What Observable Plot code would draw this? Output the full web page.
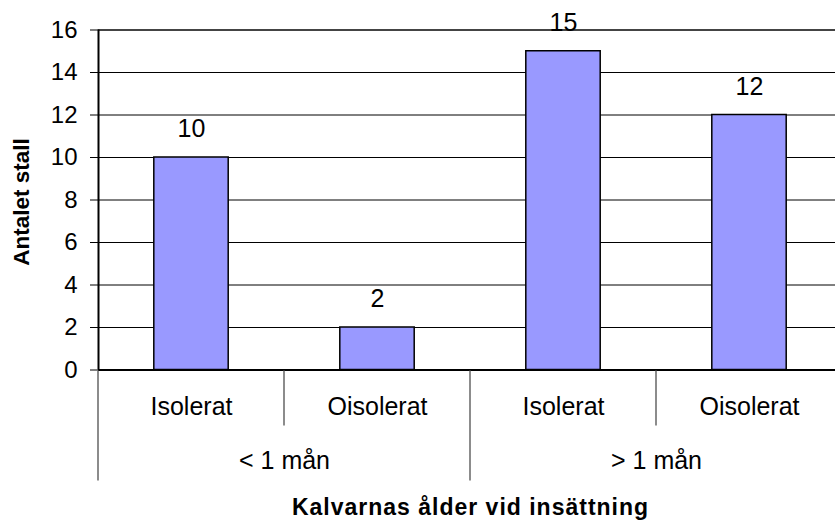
<!DOCTYPE html>
<html><head><meta charset="utf-8">
<script src="https://cdn.jsdelivr.net/npm/d3@7"></script>
<script src="https://cdn.jsdelivr.net/npm/@observablehq/plot@0.6"></script>
<style>
html,body{margin:0;padding:0;overflow:hidden;background:#fff;width:835px;height:520px}
#chart svg{display:block;max-width:none !important;width:845px;height:520px}
</style>
</head><body><div id="chart"></div>
<script>
// ---- data ----
const ageGroups = ["< 1 mån", "< 1 mån", "> 1 mån", "> 1 mån"];
const housing = ["Isolerat", "Oisolerat", "Isolerat", "Oisolerat"];
const counts = [10, 2, 15, 12];
const groupLabels = ["< 1 mån", "> 1 mån"];
const yTicks = [0, 2, 4, 6, 8, 10, 12, 14, 16];
const yTitle = "Antalet stall";
const xTitle = "Kalvarnas ålder vid insättning";

const data = counts.map((v, i) => ({i, group: ageGroups[i], housing: housing[i], value: v}));
const font = "'Liberation Sans', Arial, sans-serif";
const fs = 25;

// separators below the axis: category boundaries (short) and group boundaries (long)
const seps = [];
for (let k = 0; k <= housing.length; k++) seps.push({x: k, long: k % 2 === 0});

const chart = Plot.plot({
  width: 845,
  height: 520,
  marginLeft: 98,
  marginRight: 3,
  marginTop: 29.5,
  marginBottom: 150.5,
  style: {fontFamily: font, fontSize: "24px", background: "#fff", color: "#000", maxWidth: "none"},
  x: {type: "linear", domain: [0, housing.length], axis: null},
  y: {domain: [0, 16], axis: null},
  marks: [
    Plot.gridY(yTicks.filter(t => t > 0 && t < 16), {stroke: "#000", strokeOpacity: 1, strokeWidth: 1}),
    Plot.ruleY([16], {stroke: "#444", strokeWidth: 2}),
    Plot.rectY(data, {x1: d => d.i + 0.3, x2: d => d.i + 0.7, y: "value", fill: "#9999FF", stroke: "#000", strokeWidth: 1.5}),
    Plot.ruleY([0], {stroke: "#000", strokeWidth: 2}),
    Plot.ruleX([0], {stroke: "#000", strokeWidth: 2}),
    Plot.axisY({ticks: yTicks, tickSize: 8, tickPadding: 13, label: null, fontSize: 24, stroke: "#000"}),
    (index, scales, values, dims) => {
      const g = d3.create("svg:g");
      const y0 = scales.y(0);
      for (const s of seps) {
        const x = Math.round(scales.x(s.x));
        g.append("line")
          .attr("x1", x).attr("x2", x)
          .attr("y1", y0 + 1).attr("y2", y0 + (s.long ? 111 : 56))
          .attr("stroke", "#666").attr("stroke-width", 1.5);
      }
      return g.node();
    },
    Plot.text(data, {x: d => d.i + 0.5, y: "value", text: d => String(d.value), dy: -28.5, lineAnchor: "middle", fontSize: fs, fill: "#000"}),
    Plot.text(data, {x: d => d.i + 0.5, text: "housing", frameAnchor: "bottom", dy: 37, lineAnchor: "middle", fontSize: fs, fill: "#000"}),
    Plot.text(groupLabels, {x: (d, i) => i * 2 + 1, text: d => d, frameAnchor: "bottom", dy: 91, lineAnchor: "middle", fontSize: fs, fill: "#000"}),
    Plot.text([xTitle], {text: d => d, frameAnchor: "bottom", dy: 138, lineAnchor: "middle", fontSize: 23, fontWeight: "bold", fill: "#000"}),
    Plot.text([yTitle], {text: d => d, frameAnchor: "left", dx: -77, dy: 2, rotate: -90, textAnchor: "middle", lineAnchor: "middle", fontSize: 22.5, fontWeight: "bold", fill: "#000"})
  ]
});
d3.select(chart).selectAll("text").filter(function() { return this.textContent === xTitle; })
  .style("letter-spacing", "1px");
document.getElementById("chart").appendChild(chart);
</script>
</body></html>
